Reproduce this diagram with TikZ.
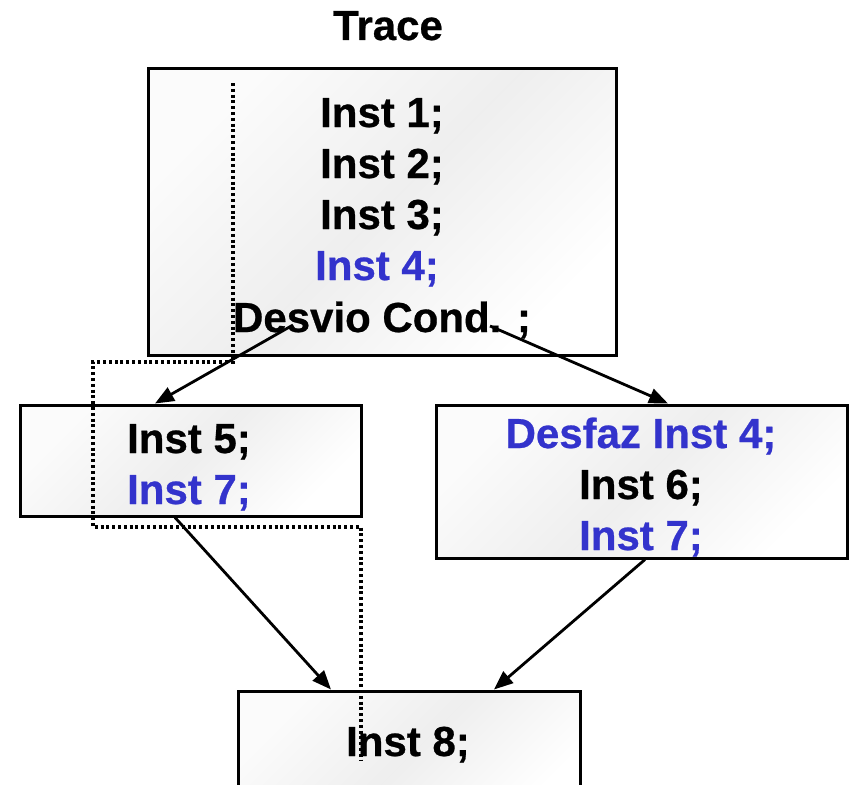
\documentclass[tikz,border=0pt]{standalone}
\usepackage{fontspec}
\setmainfont{Liberation Sans}[BoldFeatures={FakeBold=0.6}]
\usetikzlibrary{arrows.meta,shadows}
\definecolor{instblue}{RGB}{51,51,204}
\tikzset{
  boxshape/.style={rectangle, draw=black, line width=3pt, inner sep=0pt,
    top color=gray!3, bottom color=white, middle color=gray!13, shading angle=45,
    drop shadow={shadow xshift=2pt, shadow yshift=-2pt, fill=gray!50, opacity=1}},
  line/.style={anchor=base, inner sep=0pt, font=\fontsize{42}{51}\bfseries\selectfont},
  blueline/.style={line, text=instblue},
  flow/.style={line width=2.8pt, -{Triangle[length=19pt,width=15pt]}},
  trail/.style={line width=3.4pt, dash pattern=on 3pt off 2.8pt}
}
\begin{document}
\begin{tikzpicture}[x=1pt,y=-1pt]
\useasboundingbox (0,0) rectangle (850,784);
\clip (0,0) rectangle (850,784);
\node[line] (title) at (388,40) {Trace};
\node[boxshape, minimum width=468pt, minimum height=287pt] (top) at (382,211.5) {};
\node[boxshape, minimum width=341pt, minimum height=111pt] (left) at (190.5,460.5) {};
\node[boxshape, minimum width=411pt, minimum height=153pt] (right) at (641.5,481.5) {};
\node[boxshape, minimum width=342pt, minimum height=130pt] (bottom) at (409,756) {};
% top box text
\node[line] (i1) at (382,127) {Inst 1;};
\node[line] (i2) at (382,178) {Inst 2;};
\node[line] (i3) at (382,229) {Inst 3;};
\node[blueline] (i4) at (377,280) {Inst 4;};
\node[line] (dc) at (382,332) {Desvio Cond. ;};
% left box text
\node[line] (i5) at (189,453) {Inst 5;};
\node[blueline] (i7a) at (189,504) {Inst 7;};
% right box text
\node[blueline] (d4) at (641,448) {Desfaz Inst 4;};
\node[line] (i6) at (641,499) {Inst 6;};
\node[blueline] (i7b) at (641,550) {Inst 7;};
% bottom box text
\node[line] (i8) at (408,756) {Inst 8;};
% connectors
\coordinate (bl) at (293,325);
\coordinate (br) at (490,326);
\draw[flow] (bl) -- (155,0 |- left.north);
\draw[flow] (br) -- (668,0 |- right.north);
\draw[flow] (175,0 |- left.south) -- (331,0 |- bottom.north);
\draw[flow] (645,0 |- right.south) -- (494,0 |- bottom.north);
% dotted trace path
\coordinate (p0) at (233,83);
\coordinate (p1) at (233,362);
\coordinate (p2) at (93,362);
\coordinate (p3) at (93,527);
\coordinate (p4) at (361,527);
\coordinate (p5) at (361,760);
\draw[trail] (p0) -- (p1) -- (p2) -- (p3) -- (p4) -- (p5);
\end{tikzpicture}
\end{document}
